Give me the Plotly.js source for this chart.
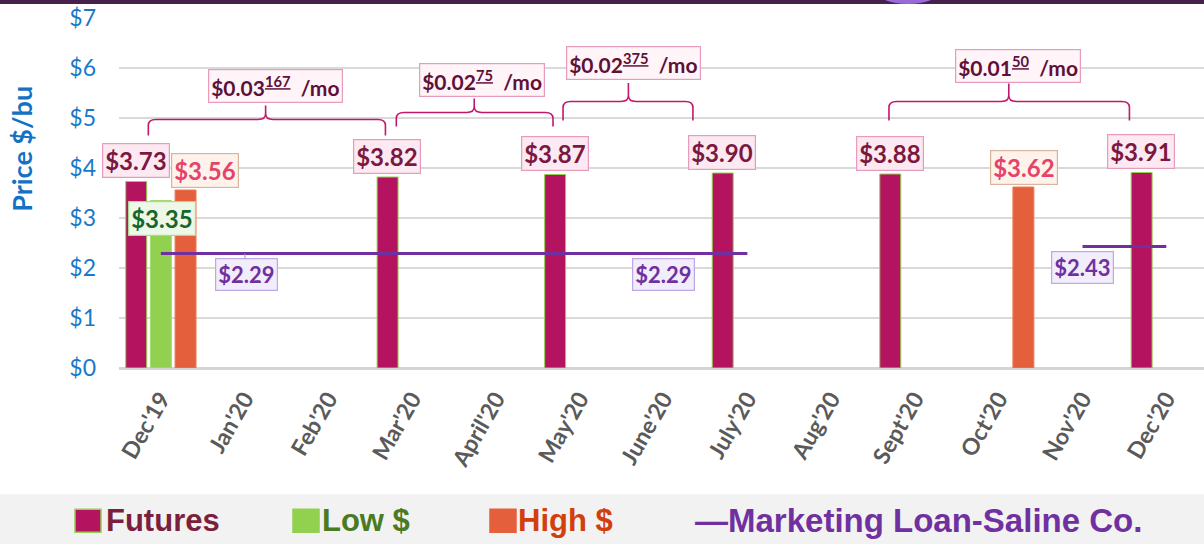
<!DOCTYPE html>
<html><head><meta charset="utf-8">
<script src="https://cdn.plot.ly/plotly-3.0.1.min.js"></script>
<style>html,body{margin:0;padding:0;background:#fff;}#chart{width:1204px;height:544px;}</style>
</head><body><div id="chart"></div>
<script>
// ---------- data ----------
const months = ["Dec'19","Jan'20","Feb'20","Mar'20","April'20","May'20","June'20","July'20","Aug'20","Sept'20","Oct'20","Nov'20","Dec'20"];
const futures   = [3.73,null,null,3.82,null,3.87,null,3.90,null,3.88,null,null,3.91];
const lowPrice  = [3.35,null,null,null,null,null,null,null,null,null,null,null,null];
const highPrice = [3.56,null,null,null,null,null,null,null,null,null,3.62,null,null];
const loan      = [2.29,2.29,2.29,2.29,2.29,2.29,2.29,2.29,null,null,null,2.43,2.43];
const loanLabelMonths = ["Jan'20","June'20","Nov'20"];
const loanLabelValues = [2.29,2.29,2.43];
const rateMain = ["$0.03","$0.02","$0.02","$0.01"];
const rateFrac = ["167","75","375","50"];
const yTickValues = [0,1,2,3,4,5,6,7];
const legendNames = ["Futures","Low $","High $","\u2014Marketing Loan-Saline Co."];

// ---------- styles ----------
const C = {
  fut:'#b3135f', futEdge:'#92d050', low:'#92d050', high:'#e4603c', loan:'#7030a0',
  blue:'#1a78c8', grid:'#d9d9d9', brace:'#c2186b'
};
const FONT = 'Lato, "Open Sans", sans-serif';
const L = 119, T = 18, PW = 1085, PH = 350.5;
const px2x = p => (p - L) / PW;
const px2y = p => (T + PH - p) / PH;

// brace geometry (category-index units / $ units)
const braces = [
  {x0:-0.15, x1:2.68, tip:1.25, yEnd:4.65, yH:4.97, yTip:5.25, lx:1.37, ly:5.64},
  {x0:2.81,  x1:4.68, tip:3.74, yEnd:4.83, yH:5.11, yTip:5.39, lx:3.83, ly:5.77},
  {x0:4.80,  x1:6.35, tip:5.58, yEnd:4.95, yH:5.33, yTip:5.70, lx:5.64, ly:6.11},
  {x0:8.69,  x1:11.56,tip:10.12,yEnd:4.95, yH:5.33, yTip:5.69, lx:10.23,ly:6.05}
];
function bracePath(b){
  const rx = 0.09, ry = 0.12;
  return `M ${b.x0},${b.yEnd} L ${b.x0},${b.yH-ry} Q ${b.x0},${b.yH} ${b.x0+rx},${b.yH} `+
         `L ${b.tip-rx},${b.yH} Q ${b.tip},${b.yH} ${b.tip},${b.yH+ry} L ${b.tip},${b.yTip} `+
         `M ${b.tip},${b.yH+ry} Q ${b.tip},${b.yH} ${b.tip+rx},${b.yH} `+
         `L ${b.x1-rx},${b.yH} Q ${b.x1},${b.yH} ${b.x1},${b.yH-ry} L ${b.x1},${b.yEnd}`;
}

// ---------- traces ----------
const traces = [
  {type:'bar', name:legendNames[0], x:months, y:futures, marker:{color:C.fut, line:{color:C.futEdge, width:1}}, hoverinfo:'skip'},
  {type:'bar', name:legendNames[1], x:months, y:lowPrice, marker:{color:C.low, line:{color:'#a6da70', width:1}}, hoverinfo:'skip'},
  {type:'bar', name:legendNames[2], x:months, y:highPrice, marker:{color:C.high, line:{color:'#ea7a58', width:1}}, hoverinfo:'skip'},
  {type:'scatter', mode:'lines', name:legendNames[3], x:months, y:loan, connectgaps:false,
   line:{color:C.loan, width:3.2}, hoverinfo:'skip'}
];

// ---------- annotations ----------
const ann = [];
function valueLabel(x, v, xshift, yshift, color, bg, border, size){
  ann.push({x:x, y:v, xref:'x', yref:'y', xshift:xshift, yshift:yshift, showarrow:false,
    text:'<b>$'+v.toFixed(2)+'</b>', font:{family:FONT, size:size||24, color:color},
    bgcolor:bg, bordercolor:border, borderwidth:1.2, borderpad:2, xanchor:'center', yanchor:'middle'});
}
futures.forEach((v,i)=>{ if(v!=null) valueLabel(months[i], v, -25, 21, '#7b1840', '#fce9f1', '#e79bbd'); });
lowPrice.forEach((v,i)=>{ if(v!=null) valueLabel(months[i], v, 1, -18, '#17662b', '#eef8e8', '#a9d99a'); });
highPrice.forEach((v,i)=>{ if(v!=null) valueLabel(months[i], v, i===0?44:25, 20, '#e6426a', '#fdf3eb', '#d9b49c'); });
loanLabelMonths.forEach((m,i)=>{
  const v = loanLabelValues[i];
  ann.push({x:m, y:v, xref:'x', yref:'y', showarrow:i===0, arrowhead:0, arrowwidth:1, arrowcolor:'#999',
    ax:2, ay:21, yshift:i===0?0:-21, text:'<b>$'+v.toFixed(2)+'</b>', font:{family:FONT, size:22, color:C.loan},
    bgcolor:'#f2edfb', bordercolor:'#bfa6e6', borderwidth:1.2, borderpad:2, xanchor:'center', yanchor:'middle'});
});
braces.forEach((b,i)=>{
  ann.push({x:b.lx, y:b.ly, xref:'x', yref:'y', showarrow:false,
    text:'<b>'+rateMain[i]+'<sup><u>'+rateFrac[i]+'</u></sup>  /mo</b>',
    font:{family:FONT, size:21, color:'#5e1038'}, bgcolor:'#fff4f8', bordercolor:'#e79bbd',
    borderwidth:1.2, borderpad:2, xanchor:'center', yanchor:'middle'});
});
// y-axis title
ann.push({xref:'paper', yref:'paper', x:px2x(22), y:px2y(149), showarrow:false, textangle:-90,
  text:'<b>Price $/bu</b>', font:{family:FONT, size:27, color:'#1372c4'}, xanchor:'center', yanchor:'middle'});

// ---------- shapes ----------
const shapes = [];
braces.forEach(b=>shapes.push({type:'path', xref:'x', yref:'y', path:bracePath(b), line:{color:C.brace, width:1.6}, layer:'above'}));
// bottom legend band
shapes.push({type:'rect', xref:'paper', yref:'paper', x0:px2x(0), x1:px2x(1210), y0:px2y(495), y1:px2y(550),
  fillcolor:'#f2f2f2', line:{width:0}, layer:'below'});
// top dark strip
shapes.push({type:'rect', xref:'paper', yref:'paper', x0:px2x(0), x1:px2x(1210), y0:px2y(4), y1:px2y(-2),
  fillcolor:'#46214c', line:{width:0}, layer:'above'});
shapes.push({type:'circle', xref:'paper', yref:'paper', x0:px2x(872), x1:px2x(944), y0:px2y(4), y1:px2y(-30),
  fillcolor:'#9a6ad8', line:{width:0}, layer:'above'});

// custom legend
const legendItems = [
  {sq:C.fut, sqEdge:C.futEdge, txt:'#7b1f3f', sx:75,  tx:104, size:31},
  {sq:C.low, sqEdge:C.low,     txt:'#4a7a22', sx:293, tx:320, size:31},
  {sq:C.high,sqEdge:C.high,    txt:'#d1400c', sx:490, tx:516, size:31},
  {sq:null,  sqEdge:null,      txt:C.loan,    sx:0,   tx:693, size:33}
];
legendItems.forEach((it,i)=>{
  if(it.sq){
    shapes.push({type:'rect', xref:'paper', yref:'paper', x0:px2x(it.sx), x1:px2x(it.sx+26),
      y0:px2y(533), y1:px2y(510), fillcolor:it.sq, line:{color:it.sqEdge, width:1.5}, layer:'above'});
  }
  ann.push({xref:'paper', yref:'paper', x:px2x(it.tx), y:px2y(521), xanchor:'left', yanchor:'middle',
    showarrow:false, text:'<b>'+legendNames[i]+'</b>', font:{family:'"Liberation Sans Narrow", "Liberation Sans", sans-serif', size:it.size, color:it.txt}});
});

const layout = {
  width:1204, height:544,
  margin:{l:L, r:0, t:T, b:544-T-PH, pad:0},
  paper_bgcolor:'#ffffff', plot_bgcolor:'#ffffff',
  showlegend:false,
  barmode:'group', bargap:0.117, bargroupgap:0.15,
  xaxis:{type:'category', range:[-0.5,12.45], showgrid:false, zeroline:false, showline:false,
    ticks:'', tickangle:-60, ticklabelstandoff:12,
    tickfont:{family:FONT, size:23, color:'#5a5a5a', weight:'bold'}},
  yaxis:{range:[0,7], tickvals:yTickValues, ticktext:yTickValues.map(v=>'$'+v),
    showgrid:true, gridcolor:C.grid, gridwidth:1.5, zeroline:true, zerolinecolor:'#d4d4d4', zerolinewidth:3,
    showline:false, ticks:'', ticklabelstandoff:22,
    tickfont:{family:FONT, size:23, color:C.blue}},
  annotations:ann, shapes:shapes
};

Plotly.newPlot('chart', traces, layout, {staticPlot:true, displayModeBar:false});
</script></body></html>
